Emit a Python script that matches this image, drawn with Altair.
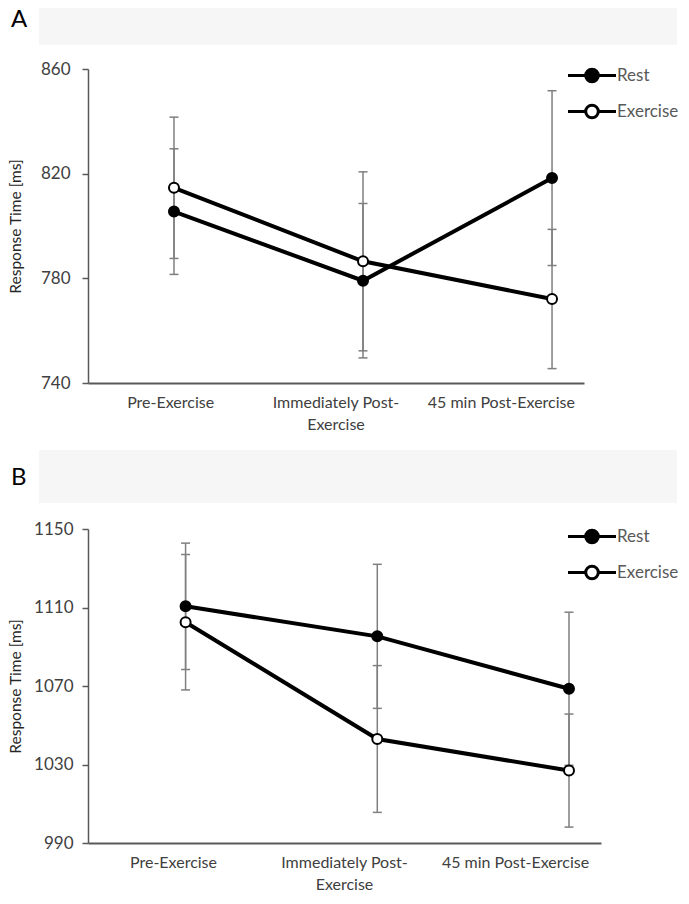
import altair as alt
import pandas as pd

FONT = "Lato"
GRAY = "#7f7f7f"
AXIS = "#595959"

cats = ["Pre-Exercise", "Immediately Post-Exercise", "45 min Post-Exercise"]
series = ["Rest", "Exercise"]

# Panel A
a_rest_mean = [805.5, 779.1, 818.3]
a_rest_err = [24.0, 29.5, 33.4]
a_ex_mean = [814.6, 786.5, 772.1]
a_ex_err = [27.0, 34.2, 26.6]
a_ticks = [740, 780, 820, 860]

# Panel B
b_rest_mean = [1110.6, 1095.3, 1068.6]
b_rest_err = [32.2, 36.7, 39.0]
b_ex_mean = [1102.5, 1043.0, 1026.9]
b_ex_err = [34.5, 37.4, 28.8]
b_ticks = [990, 1030, 1070, 1110, 1150]

panel_letters = ["A", "B"]

SYMBOL = ("M-1.6,0L-0.42,0M0.42,0L1.6,0"
          "M-0.42,0A0.42,0.42,0,1,0,0.42,0A0.42,0.42,0,1,0,-0.42,0Z")


def panel_df(rm, re, em, ee):
    rows = []
    for i, c in enumerate(cats):
        rows.append(dict(time=c, series="Rest", mean=rm[i], err=re[i]))
        rows.append(dict(time=c, series="Exercise", mean=em[i], err=ee[i]))
    df = pd.DataFrame(rows)
    df["lo"] = df["mean"] - df["err"]
    df["hi"] = df["mean"] + df["err"]
    return df


def make_panel(df, ticks, width, height, pad_outer, align, title_pad, label_pad,
               lx, ly, letter, band_top, band_bottom, band_left, band_right,
               letter_x, letter_y):
    base = alt.Chart(df)
    yscale = alt.Scale(domain=[ticks[0], ticks[-1]], nice=False, zero=False)
    yaxis = alt.Axis(
        values=ticks, format="d", title="Response Time [ms]", grid=False,
        tickSize=6, tickWidth=1.5, tickColor=AXIS,
        domainColor=AXIS, domainWidth=1.5,
        labelFont=FONT, labelFontSize=17, labelColor="#404040", labelPadding=label_pad,
        titleFont=FONT, titleFontSize=15.5, titleFontWeight="normal",
        titleColor="#262626", titlePadding=title_pad,
    )
    xp = alt.X(
        "time:N", sort=cats,
        scale=alt.Scale(type="point", domain=cats, padding=pad_outer, align=align),
        axis=None,
    )
    hdr = pd.DataFrame({"label": [letter]})
    band = alt.Chart(hdr).mark_rect(color="#f6f6f6").encode(
        x=alt.value(band_left), x2=alt.value(band_right),
        y=alt.value(band_top), y2=alt.value(band_bottom),
    )
    letter_txt = alt.Chart(hdr).mark_text(
        fontSize=24, font=FONT, align="left", baseline="middle", color="black"
    ).encode(text="label:N", x=alt.value(letter_x), y=alt.value(letter_y))
    labels = base.mark_point(opacity=0).encode(
        x=alt.X(
            "time:N", sort=cats,
            scale=alt.Scale(type="band", domain=cats, paddingInner=0, paddingOuter=0),
            axis=alt.Axis(
                orient="bottom", title=None, ticks=False, grid=False, labelAngle=0,
                domainColor=AXIS, domainWidth=2,
                labelFont=FONT, labelFontSize=16, labelColor="#404040",
                labelPadding=11, labelLineHeight=22, labelLimit=300,
                labelExpr="datum.value == 'Immediately Post-Exercise' ? ['Immediately Post-', 'Exercise'] : datum.label",
            ),
        ),
        y=alt.Y("mean:Q", scale=yscale, axis=yaxis),
    )
    rules = base.mark_rule(color=GRAY, strokeWidth=1.5).encode(
        x=xp, y=alt.Y("lo:Q", scale=yscale, axis=yaxis), y2="hi:Q"
    )
    caps = base.transform_fold(["lo", "hi"], as_=["which", "val"]).mark_tick(
        color=GRAY, size=9, thickness=1.5, opacity=1
    ).encode(x=xp, y=alt.Y("val:Q", scale=yscale, axis=yaxis))
    lines = base.mark_line(color="black", strokeWidth=4).encode(
        x=xp, y=alt.Y("mean:Q", scale=yscale, axis=yaxis), detail="series:N"
    )
    pts = base.mark_point(
        shape="circle", filled=True, size=100, stroke="black", strokeWidth=2, opacity=1
    ).encode(
        x=xp,
        y=alt.Y("mean:Q", scale=yscale, axis=yaxis),
        fill=alt.Fill(
            "series:N",
            scale=alt.Scale(domain=series, range=["black", "white"]),
            legend=alt.Legend(
                title=None, orient="none", legendX=lx, legendY=ly,
                direction="vertical",
                symbolType=SYMBOL, symbolSize=900,
                symbolStrokeColor="black", symbolStrokeWidth=3,
                labelFont=FONT, labelFontSize=17, labelColor="#595959",
                labelOffset=8.5, rowPadding=7,
            ),
        ),
    )
    return (
        alt.layer(band, letter_txt, labels, rules, caps, lines, pts)
        .resolve_scale(x="independent")
        .properties(width=width, height=height)
    )


dfA = panel_df(a_rest_mean, a_rest_err, a_ex_mean, a_ex_err)
dfB = panel_df(b_rest_mean, b_rest_err, b_ex_mean, b_ex_err)

panelA = make_panel(dfA, a_ticks, 496, 314, 0.312, 0.729, 17, 12,
                    487.5, -10, panel_letters[0], -61, -24, -49, 589, -77, -49)
panelB = make_panel(dfB, b_ticks, 513, 314, 0.338, 0.753, 10, 9,
                    487.5, -9, panel_letters[1], -79, -26, -49, 589, -77, -51)

chart = (
    alt.vconcat(panelA, panelB, spacing=18)
    .properties(padding={"left": 0, "top": 0, "right": 0, "bottom": 0})
    .resolve_scale(fill="independent", y="independent", x="independent")
    .resolve_legend(fill="independent")
    .configure_view(stroke=None)
)

chart.save("out.html", embed_options={"renderer": "svg", "actions": False})
